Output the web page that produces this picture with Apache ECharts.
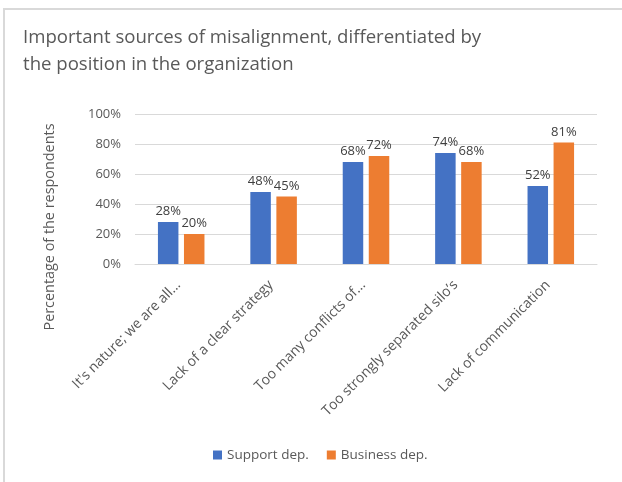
<!DOCTYPE html>
<html>
<head>
<meta charset="utf-8">
<script src="https://cdn.jsdelivr.net/npm/echarts@6/dist/echarts.min.js"></script>
<style>
  html, body { margin: 0; padding: 0; background: #ffffff; }
  #chart { width: 622px; height: 482px; }
</style>
</head>
<body>
<div id="chart"></div>
<script>
// Sources of misalignment, split by department type
const categories = [
  "It's nature; we are all...",
  "Lack of a clear strategy",
  "Too many conflicts of...",
  "Too strongly separated silo’s",
  "Lack of communication"
];
const supportDep = [28, 48, 68, 74, 52];
const businessDep = [20, 45, 72, 68, 81];
const yTicks = [0, 20, 40, 60, 80, 100];

const FONT = '"Open Sans", Lato, sans-serif';
const chart = echarts.init(document.getElementById('chart'), null, { renderer: 'canvas' });

const valueLabel = {
  show: true,
  position: 'top',
  distance: 4,
  formatter: p => p.value + '%',
  color: '#404040',
  fontSize: 13,
  fontFamily: FONT
};

chart.setOption({
  animation: false,
  backgroundColor: '#ffffff',
  title: {
    text: 'Important sources of misalignment, differentiated by\nthe position in the organization',
    left: 18,
    top: 19,
    textStyle: {
      color: '#595959',
      fontSize: 18.6,
      fontWeight: 'normal',
      fontFamily: FONT,
      lineHeight: 27
    }
  },
  graphic: [
    { type: 'line', shape: { x1: 3, y1: 9, x2: 622, y2: 9 }, style: { stroke: '#d9d9d9', lineWidth: 2 } },
    { type: 'line', shape: { x1: 4, y1: 8, x2: 4, y2: 482 }, style: { stroke: '#d9d9d9', lineWidth: 2 } },
    {
      type: 'text',
      x: 50, y: 227,
      rotation: Math.PI / 2,
      style: {
        text: 'Percentage of the respondents',
        fill: '#595959',
        fontSize: 14.4,
        fontFamily: FONT,
        align: 'center',
        verticalAlign: 'middle'
      }
    }
  ],
  legend: {
    bottom: 15,
    left: 208,
    itemWidth: 9,
    itemHeight: 9,
    itemGap: 18,
    icon: 'rect',
    textStyle: { color: '#595959', fontSize: 13.5, fontFamily: FONT },
    data: ['Support dep.', 'Business dep.']
  },
  grid: { left: 135, right: 25, top: 114, height: 150, containLabel: false },
  xAxis: {
    type: 'category',
    data: categories,
    axisLine: { lineStyle: { color: '#d9d9d9', width: 1 } },
    axisTick: { show: false },
    axisLabel: {
      rotate: 45,
      interval: 0,
      margin: 16,
      padding: [0, 4, 0, 0],
      color: '#595959',
      fontSize: 14,
      fontFamily: FONT
    }
  },
  yAxis: {
    type: 'value',
    min: yTicks[0],
    max: yTicks[yTicks.length - 1],
    interval: 20,
    axisLabel: {
      formatter: v => v + '%',
      color: '#595959',
      fontSize: 13,
      fontFamily: FONT,
      margin: 14
    },
    axisLine: { show: false },
    axisTick: { show: false },
    splitLine: { lineStyle: { color: '#d9d9d9', width: 1 } }
  },
  series: [
    {
      name: 'Support dep.',
      type: 'bar',
      data: supportDep,
      barWidth: 20.5,
      barGap: '27%',
      itemStyle: { color: '#4472c4' },
      label: valueLabel
    },
    {
      name: 'Business dep.',
      type: 'bar',
      data: businessDep,
      barWidth: 20.5,
      itemStyle: { color: '#ed7d31' },
      label: valueLabel
    }
  ]
});
</script>
</body>
</html>
